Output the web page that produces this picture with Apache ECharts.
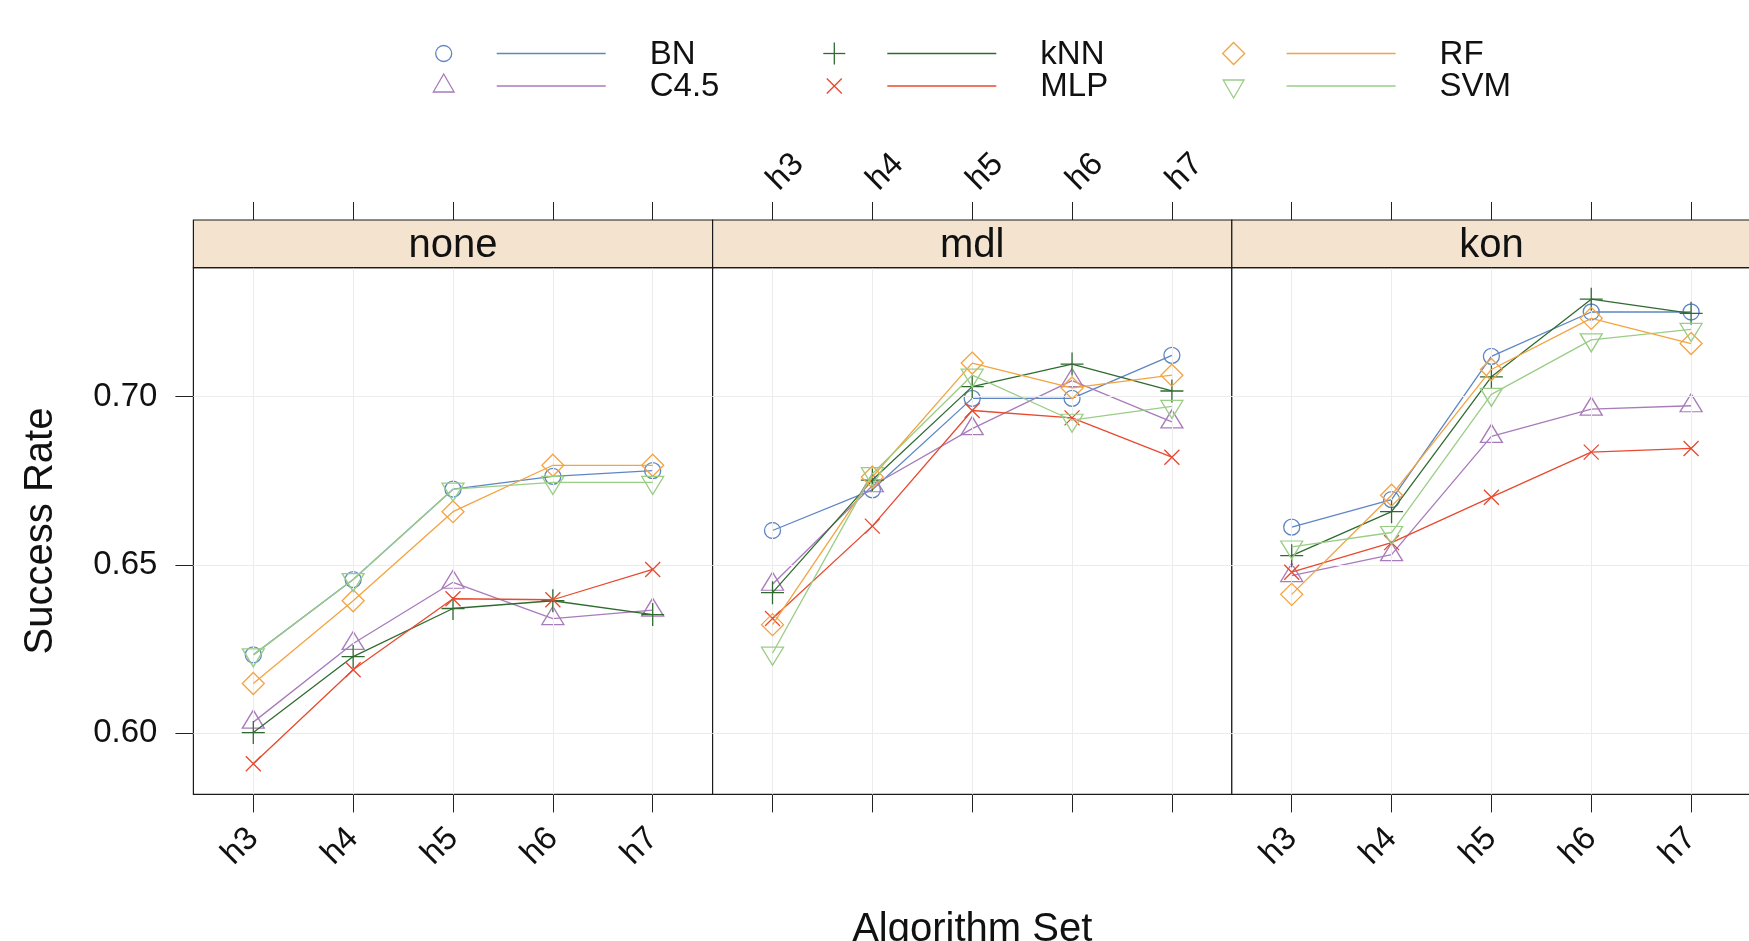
<!DOCTYPE html>
<html><head><meta charset="utf-8">
<script src="https://cdn.jsdelivr.net/npm/echarts@6/dist/echarts.min.js"></script>
<style>html,body{margin:0;padding:0;background:#fff}#c{width:1749px;height:941px}</style>
</head><body><div id="c"></div>
<script>
// ---------------- data ----------------
const categories = ['h3', 'h4', 'h5', 'h6', 'h7'];
const panels = ['none', 'mdl', 'kon'];
const algorithms = ['BN', 'C4.5', 'kNN', 'MLP', 'RF', 'SVM'];
const yTicks = [0.60, 0.65, 0.70];

// values per panel: [none, mdl, kon], each over h3..h7
const BN  = [[0.6232, 0.6456, 0.6725, 0.6763, 0.6780],
             [0.6602, 0.6723, 0.6995, 0.6995, 0.7123],
             [0.6612, 0.6694, 0.7120, 0.7252, 0.7252]];
const C45 = [[0.6032, 0.6266, 0.6448, 0.6340, 0.6365],
             [0.6442, 0.6735, 0.6905, 0.7048, 0.6925],
             [0.6468, 0.6530, 0.6882, 0.6963, 0.6973]];
const KNN = [[0.6001, 0.6227, 0.6370, 0.6393, 0.6352],
             [0.6417, 0.6752, 0.7030, 0.7097, 0.7017],
             [0.6527, 0.6658, 0.7059, 0.7290, 0.7248]];
const MLP = [[0.5908, 0.6188, 0.6399, 0.6396, 0.6486],
             [0.6340, 0.6615, 0.6959, 0.6937, 0.6820],
             [0.6478, 0.6566, 0.6701, 0.6835, 0.6846]];
const RF  = [[0.6147, 0.6393, 0.6658, 0.6796, 0.6796],
             [0.6322, 0.6761, 0.7100, 0.7026, 0.7064],
             [0.6412, 0.6707, 0.7081, 0.7233, 0.7158]];
const SVM = [[0.6232, 0.6456, 0.6725, 0.6745, 0.6745],
             [0.6237, 0.6771, 0.7064, 0.6930, 0.6971],
             [0.6553, 0.6596, 0.7007, 0.7169, 0.7200]];
const seriesValues = [BN, C45, KNN, MLP, RF, SVM];

// ---------------- styles ----------------
const colors = ['#5E86C4', '#A87BBA', '#2F6B30', '#E8492F', '#F4A340', '#9ACD86'];
const symbols = [
  { symbol: 'circle', size: 16, offset: [0, 0] },
  { symbol: 'path://M0,-12L10.39,6L-10.39,6Z', size: [22, 18], offset: [0, -3] },
  { symbol: 'path://M-1,0L1,0M0,-1L0,1', size: 23, offset: [0, 0] },
  { symbol: 'path://M-1,-1L1,1M-1,1L1,-1', size: 15, offset: [0, 0] },
  { symbol: 'path://M0,-1L1,0L0,1L-1,0Z', size: 22, offset: [0, 0] },
  { symbol: 'path://M-10.39,-6L10.39,-6L0,12Z', size: [22, 18], offset: [0, 3] }
];
const FONT = 'Liberation Sans, Arial, Helvetica, sans-serif';
const L0 = 193.4, PW = 519.2, PT = 267.6, PH = 526.8, SH = 47.6;
const YMIN = 0.5817, YMAX = 0.7384, XMIN = 0.4, XMAX = 5.6;
const tickVals = categories.map((c, i) => i + 1);

const grids = [], xAxes = [], yAxes = [], series = [], graphics = [];
panels.forEach((p, pi) => {
  grids.push({ left: L0 + pi * PW, top: PT, width: PW, height: PH, show: true,
    borderColor: '#1a1a1a', borderWidth: 1.2, backgroundColor: '#fff', containLabel: false,
    outerBoundsMode: 'none' });
  // bottom axis
  xAxes.push({ type: 'value', gridIndex: pi, min: XMIN, max: XMAX, position: 'bottom',
    axisLine: { show: false }, splitLine: { show: false },
    axisTick: { show: true, inside: false, length: 18, customValues: tickVals, lineStyle: { color: '#222', width: 1 } },
    axisLabel: { show: pi !== 1, customValues: tickVals, rotate: 45, margin: 39, fontSize: 33, color: '#111', fontFamily: FONT,
      formatter: v => categories[Math.round(v) - 1] || '' },
    name: pi === 1 ? 'Algorithm Set' : '', nameLocation: 'middle', nameGap: 116,
    nameTextStyle: { fontSize: 40, color: '#111', fontFamily: FONT }
  });
  // top axis (above the strip)
  xAxes.push({ type: 'value', gridIndex: pi, min: XMIN, max: XMAX, position: 'top', offset: SH,
    axisLine: { show: false }, splitLine: { show: false },
    axisTick: { show: true, inside: false, length: 18, customValues: tickVals, lineStyle: { color: '#222', width: 1 } },
    axisLabel: { show: pi === 1, customValues: tickVals, rotate: -45, margin: 35, fontSize: 33, color: '#111', fontFamily: FONT,
      formatter: v => categories[Math.round(v) - 1] || '' }
  });
  yAxes.push({ type: 'value', gridIndex: pi, min: YMIN, max: YMAX,
    axisLine: { show: false }, splitLine: { show: false },
    axisTick: { show: pi === 0, inside: false, length: 18, customValues: yTicks, lineStyle: { color: '#222', width: 1 } },
    axisLabel: { show: pi === 0, customValues: yTicks, margin: 36, fontSize: 33, color: '#111', fontFamily: FONT,
      formatter: v => v.toFixed(2) },
    name: pi === 0 ? 'Success Rate' : '', nameLocation: 'middle', nameRotate: 90, nameGap: 132,
    nameTextStyle: { fontSize: 40, color: '#111', fontFamily: FONT }
  });
  // reference grid lines
  series.push({ type: 'line', xAxisIndex: pi * 2, yAxisIndex: pi, data: [], silent: true, z: 1,
    markLine: { silent: true, symbol: 'none', animation: false, label: { show: false },
      lineStyle: { color: '#ececec', width: 1, type: 'solid' },
      emphasis: { disabled: true },
      data: tickVals.map(v => ({ xAxis: v })).concat(yTicks.map(v => ({ yAxis: v }))) } });
  // data
  algorithms.forEach((a, ai) => {
    const s = symbols[ai];
    series.push({ type: 'line', name: a, xAxisIndex: pi * 2, yAxisIndex: pi, z: 3 + ai,
      data: seriesValues[ai][pi].map((v, i) => [i + 1, v]),
      symbol: s.symbol, symbolSize: s.size, symbolOffset: s.offset, showSymbol: true,
      lineStyle: { color: colors[ai], width: 1.3 },
      itemStyle: { color: 'rgba(0,0,0,0)', borderColor: colors[ai], borderWidth: 1.3 },
      emphasis: { disabled: true }, animation: false });
  });
  // strip
  graphics.push({ type: 'rect', shape: { x: L0 + pi * PW, y: PT - SH, width: PW, height: SH },
    style: { fill: '#F4E4CF', stroke: '#1a1a1a', lineWidth: 1.2 }, z: 10 });
  graphics.push({ type: 'text', x: L0 + pi * PW + PW / 2, y: PT - SH / 2 + 2, z: 11,
    style: { text: p, fontSize: 40, fontFamily: FONT, fill: '#111', align: 'center', verticalAlign: 'middle' } });
});

// legend (symbol | line | label), 3 columns x 2 rows
const legCols = [443.7, 834.3, 1233.6], legRows = [53.5, 86];
function legSymbol(ai, cx, cy) {
  const c = colors[ai], st = { fill: 'none', stroke: c, lineWidth: 1.3 };
  switch (ai) {
    case 0: return [{ type: 'circle', shape: { cx, cy, r: 8 }, style: st }];
    case 1: return [{ type: 'polygon', shape: { points: [[cx, cy - 12], [cx + 10.4, cy + 6], [cx - 10.4, cy + 6]] }, style: st }];
    case 2: return [{ type: 'line', shape: { x1: cx - 11, y1: cy, x2: cx + 11, y2: cy }, style: st },
                    { type: 'line', shape: { x1: cx, y1: cy - 11, x2: cx, y2: cy + 11 }, style: st }];
    case 3: return [{ type: 'line', shape: { x1: cx - 7.5, y1: cy - 7.5, x2: cx + 7.5, y2: cy + 7.5 }, style: st },
                    { type: 'line', shape: { x1: cx - 7.5, y1: cy + 7.5, x2: cx + 7.5, y2: cy - 7.5 }, style: st }];
    case 4: return [{ type: 'polygon', shape: { points: [[cx, cy - 11], [cx + 11, cy], [cx, cy + 11], [cx - 11, cy]] }, style: st }];
    default: return [{ type: 'polygon', shape: { points: [[cx - 10.4, cy - 6], [cx + 10.4, cy - 6], [cx, cy + 12]] }, style: st }];
  }
}
algorithms.forEach((a, ai) => {
  const cx = legCols[Math.floor(ai / 2)], cy = legRows[ai % 2];
  legSymbol(ai, cx, cy).forEach(g => graphics.push(g));
  graphics.push({ type: 'line', shape: { x1: cx + 53, y1: cy, x2: cx + 162, y2: cy },
    style: { stroke: colors[ai], lineWidth: 1.3 } });
  graphics.push({ type: 'text', x: cx + 206, y: cy + 1,
    style: { text: a, fontSize: 33, fontFamily: FONT, fill: '#111', align: 'left', verticalAlign: 'middle' } });
});

const chart = echarts.init(document.getElementById('c'), null, { renderer: 'canvas' });
chart.setOption({
  animation: false,
  backgroundColor: '#fff',
  textStyle: { fontFamily: FONT },
  grid: grids, xAxis: xAxes, yAxis: yAxes, series: series, graphic: graphics
});
</script></body></html>
